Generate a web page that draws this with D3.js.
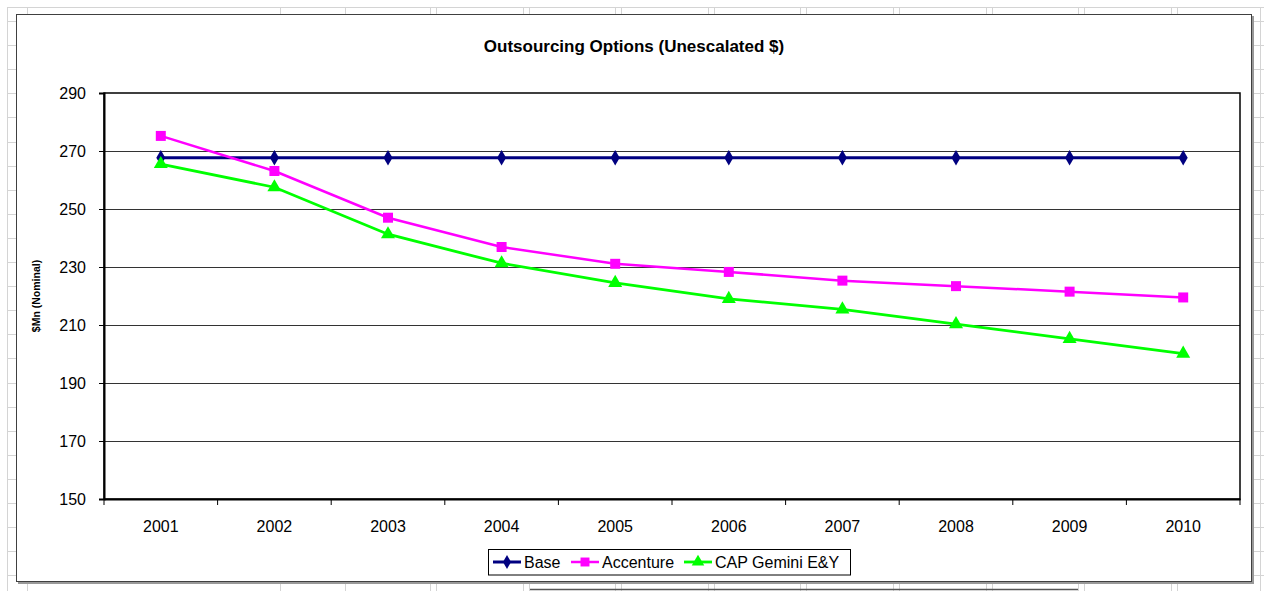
<!DOCTYPE html>
<html><head><meta charset="utf-8">
<script src="https://cdn.jsdelivr.net/npm/d3@7"></script>
<style>html,body{margin:0;padding:0;background:#fff;}svg{display:block;}</style>
</head><body>
<svg id="c" width="1264" height="591"></svg>
<script>
const years = ["2001","2002","2003","2004","2005","2006","2007","2008","2009","2010"];
const baseVals = [267.7,267.7,267.7,267.7,267.7,267.7,267.7,267.7,267.7,267.7];
const accentureVals = [275.2,263.1,247.0,236.9,231.1,228.3,225.3,223.4,221.5,219.5];
const capVals = [265.5,257.5,241.3,231.3,224.5,219.0,215.4,210.3,205.2,200.1];
const yTicks = [150,170,190,210,230,250,270,290];
const seriesNames = ["Base","Accenture","CAP Gemini E&Y"];
const seriesColors = ["#000080","#FF00FF","#00FF00"];
const seriesShapes = [d3.symbolDiamond, d3.symbolSquare, d3.symbolTriangle];
const seriesData = [baseVals, accentureVals, capVals];

const svg = d3.select("#c");
const W = 1264, H = 591;
const font = "'Liberation Sans', Arial, sans-serif";

// spreadsheet grid background
const bg = svg.append("g").attr("stroke","#d4d4d4").attr("stroke-width",1);
const rowLines = d3.range(0, 25).map(i => 21 + i*24.1);
rowLines.concat([7]).forEach(y => bg.append("line").attr("x1",7).attr("x2",W).attr("y1",Math.round(y)+0.5).attr("y2",Math.round(y)+0.5));
const colLines = [7,27,280,345];
d3.range(0,9).forEach(k => { colLines.push(430+k*92.6); colLines.push(436+k*92.6); });
colLines.push(1260);
colLines.forEach(x => bg.append("line").attr("x1",Math.round(x)+0.5).attr("x2",Math.round(x)+0.5).attr("y1",7).attr("y2",H));

// dark line below chart
svg.append("line").attr("x1",530).attr("x2",1078).attr("y1",589.5).attr("y2",589.5).attr("stroke","#555").attr("stroke-width",1.5);

// chart area
svg.append("rect").attr("x",18).attr("y",16).attr("width",1236).attr("height",568).attr("fill","#999");
svg.append("rect").attr("x",16.5).attr("y",14.5).attr("width",1235).attr("height",567).attr("fill","#fff").attr("stroke","#404040").attr("stroke-width",1);

// title
svg.append("text").attr("x",634).attr("y",52).attr("text-anchor","middle")
  .attr("font-family",font).attr("font-weight","bold").attr("font-size",17).text("Outsourcing Options (Unescalated $)");

const pl = 104, pr = 1240, pt = 93, pb = 499;
const x = d3.scaleBand().domain(years).range([pl, pr]);
const y = d3.scaleLinear().domain([150,290]).range([pb, pt]);

// gridlines
svg.append("g").selectAll("line").data(yTicks.filter(t => t>150 && t<290)).join("line")
  .attr("x1",pl).attr("x2",pr).attr("y1",d=>Math.round(y(d))+0.5).attr("y2",d=>Math.round(y(d))+0.5)
  .attr("stroke","#333").attr("stroke-width",1);

// plot border
svg.append("rect").attr("x",pl).attr("y",pt).attr("width",pr-pl).attr("height",pb-pt)
  .attr("fill","none").attr("stroke","#000").attr("stroke-width",1.5);

// y axis
const yAxis = d3.axisLeft(y).tickValues(yTicks).tickSize(5).tickPadding(13).tickFormat(d3.format("d"));
const ya = svg.append("g").attr("transform",`translate(${pl},0)`).call(yAxis);
ya.select(".domain").attr("stroke","#000").attr("stroke-width",2);
ya.selectAll(".tick line").attr("stroke","#000");
ya.selectAll("text").attr("font-family",font).attr("font-size",16).attr("fill","#000").attr("dy","0.36em");

// x axis
const xa = svg.append("g").attr("transform",`translate(0,${pb})`).call(d3.axisBottom(x).tickSize(0).tickPadding(0));
xa.select(".domain").attr("stroke","#000").attr("stroke-width",2);
xa.selectAll("text").attr("font-family",font).attr("font-size",16).attr("fill","#000").attr("dy",0).attr("y",33);
// category boundary ticks
svg.append("g").selectAll("line").data(years.concat(["end"])).join("line")
  .attr("x1",(d,i)=> i<years.length ? x(d) : pr).attr("x2",(d,i)=> i<years.length ? x(d) : pr)
  .attr("y1",pb).attr("y2",pb+6).attr("stroke","#000").attr("stroke-width",1);

// y axis title
svg.append("text").attr("transform","translate(40,296) rotate(-90)").attr("text-anchor","middle")
  .attr("font-family",font).attr("font-weight","bold").attr("font-size",10.5).text("$Mn (Nominal)");

// series
const cx = d => x(d) + x.bandwidth()/2;
const line = d3.line().x((d,i)=>cx(years[i])).y(d=>y(d));
const widths = [3,2.5,2.8];
const sizes = [70,100,85];
seriesData.forEach((vals,si) => {
  svg.append("path").datum(vals).attr("d",line).attr("fill","none")
    .attr("stroke",seriesColors[si]).attr("stroke-width",widths[si]);
  svg.append("g").selectAll("path").data(vals).join("path")
    .attr("d", d3.symbol().type(seriesShapes[si]).size(sizes[si]))
    .attr("transform",(d,i)=>`translate(${cx(years[i])},${y(d)})`)
    .attr("fill",seriesColors[si]);
});

// legend
svg.append("rect").attr("x",488.5).attr("y",549.5).attr("width",362).attr("height",25.5)
  .attr("fill","#fff").attr("stroke","#000").attr("stroke-width",1);
const legX = [493, 571, 684];
seriesNames.forEach((n,si) => {
  const g = svg.append("g").attr("transform",`translate(${legX[si]},562)`);
  g.append("line").attr("x1",0).attr("x2",28).attr("stroke",seriesColors[si]).attr("stroke-width",widths[si]);
  g.append("path").attr("d",d3.symbol().type(seriesShapes[si]).size(sizes[si]*0.8)).attr("transform","translate(14,0)").attr("fill",seriesColors[si]);
  g.append("text").attr("x",31).attr("y",0).attr("dy","0.36em").attr("font-family",font).attr("font-size",16).text(n);
});
</script>
</body></html>
